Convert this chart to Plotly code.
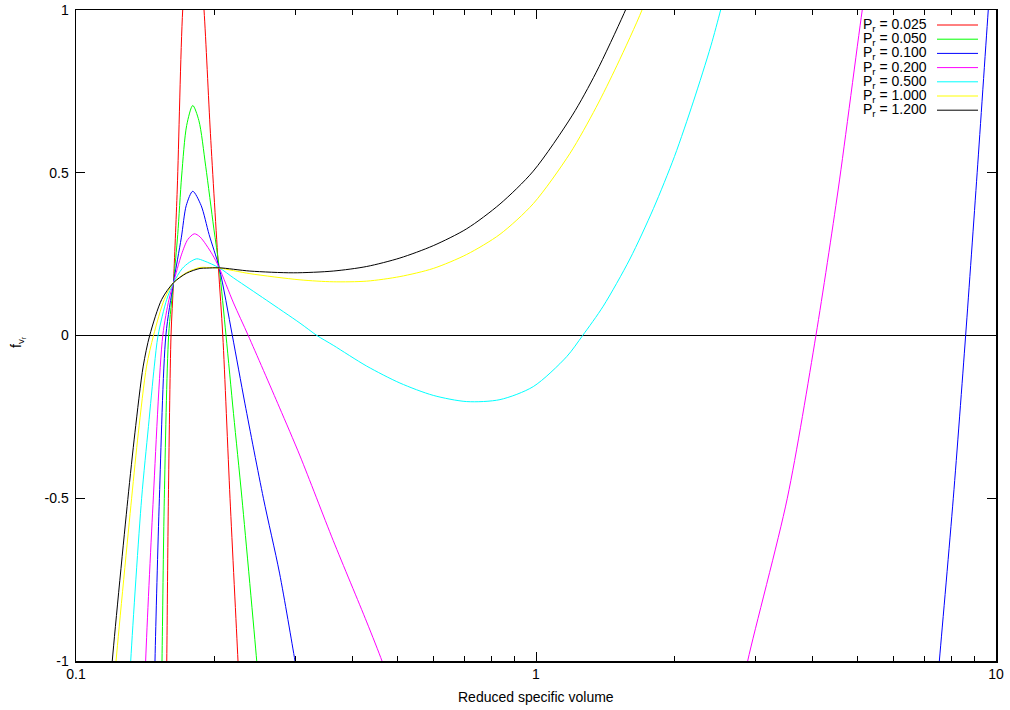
import plotly.graph_objects as go

# ---------------- data ----------------
pressures = [0.025, 0.050, 0.100, 0.200, 0.500, 1.000, 1.200]
legend_labels = ["P<sub>r</sub> = 0.025", "P<sub>r</sub> = 0.050", "P<sub>r</sub> = 0.100",
                 "P<sub>r</sub> = 0.200", "P<sub>r</sub> = 0.500", "P<sub>r</sub> = 1.000",
                 "P<sub>r</sub> = 1.200"]
colors = ["#ff0000", "#00ff00", "#0000ff", "#ff00ff", "#00ffff", "#ffff00", "#000000"]

v_p0025 = [0.1565, 0.1575, 0.1588, 0.1609, 0.1629, 0.1660, 0.1706, 0.1750, 0.1800, 0.1850,
           0.1898, 0.1960, 0.2040, 0.2085, 0.2162, 0.2250, 0.2275]
f_p0025 = [-1.30, -1.00, -0.50, 0.00, 0.162, 0.45, 1.00, 1.20, 1.27, 1.20,
           1.00, 0.62, 0.208, 0.00, -0.50, -1.00, -1.15]

v_p0050 = [0.1528, 0.1538, 0.1556, 0.1590, 0.1629, 0.1664, 0.1697, 0.1740, 0.1794, 0.1850,
           0.1914, 0.1993, 0.2048, 0.2119, 0.2200, 0.2295, 0.2471, 0.2500]
f_p0050 = [-1.25, -1.00, -0.50, 0.00, 0.162, 0.31, 0.49, 0.645, 0.7066, 0.66,
           0.52, 0.33, 0.208, 0.00, -0.24, -0.50, -1.00, -1.09]

v_p0100 = [0.1475, 0.1485, 0.1518, 0.1568, 0.1629, 0.1694, 0.1737, 0.1794, 0.1870, 0.1947,
           0.2048, 0.2187, 0.2330, 0.2555, 0.2770, 0.2993, 0.3050, None,
           7.30, 7.53, 8.075, 8.59, 9.10, 9.62, 10.0]
f_p0100 = [-1.25, -1.00, -0.50, 0.00, 0.162, 0.30, 0.40, 0.443, 0.40, 0.31,
           0.208, 0.00, -0.21, -0.50, -0.73, -1.00, -1.07, None,
           -1.22, -1.00, -0.50, 0.00, 0.50, 1.00, 1.34]

v_p0200 = [0.1400, 0.1417, 0.1470, 0.1544, 0.1593, 0.1629, 0.1697, 0.1750, 0.1808, 0.1860,
           0.1977, 0.2048, 0.2200, 0.2368, 0.2767, 0.3069, 0.3624, 0.4285, 0.4626, 0.4750, None,
           2.75, 2.885, 3.518, 4.06, 4.54, 5.12, 5.35]
f_p0200 = [-1.25, -1.00, -0.52, 0.00, 0.111, 0.162, 0.25, 0.295, 0.3124, 0.303,
           0.25, 0.208, 0.10, 0.00, -0.22, -0.37, -0.63, -0.88, -1.00, -1.05, None,
           -1.15, -1.00, -0.50, 0.00, 0.45, 1.00, 1.18]

v_p0500 = [0.1290, 0.1315, 0.1389, 0.1437, 0.1480, 0.1508, 0.1575, 0.1629, 0.1700, 0.1765,
           0.1830, 0.1900, 0.2048, 0.2200, 0.2388, 0.2598, 0.3069, 0.3340, 0.3624, 0.4285,
           0.5060, 0.5980, 0.7070, 0.8350, 0.9865, 1.166, 1.263, 1.400, 1.600, 1.800,
           2.000, 2.200, 2.400, 2.520, 2.650]
f_p0500 = [-1.25, -1.00, -0.50, -0.28, -0.094, 0.00, 0.111, 0.162, 0.205, 0.225,
           0.2356, 0.229, 0.208, 0.177, 0.143, 0.108, 0.038, 0.00, -0.030, -0.094,
           -0.146, -0.184, -0.203, -0.197, -0.157, -0.065, 0.00, 0.09, 0.235, 0.39,
           0.55, 0.72, 0.89, 1.00, 1.12]

v_p1000 = [0.1190, 0.1222, 0.1321, 0.1366, 0.1424, 0.1474, 0.1556, 0.1629, 0.1737, 0.1860,
           0.1923, 0.2048, 0.2388, 0.3069, 0.3624, 0.4285, 0.5060, 0.5980, 0.7070, 0.8350,
           0.9865, 1.186, 1.350, 1.500, 1.700, 1.800]
f_p1000 = [-1.20, -1.00, -0.50, -0.30, -0.094, 0.00, 0.111, 0.162, 0.193, 0.209,
           0.209, 0.207, 0.190, 0.171, 0.165, 0.167, 0.181, 0.206, 0.249, 0.311,
           0.405, 0.56, 0.70, 0.83, 1.00, 1.10]

v_p1200 = [0.1170, 0.1199, 0.1296, 0.1343, 0.1400, 0.1446, 0.1536, 0.1629, 0.1737, 0.1860,
           0.1923, 0.2048, 0.2388, 0.2968, 0.3624, 0.4285, 0.5060, 0.5980, 0.7070, 0.8350,
           0.9865, 1.200, 1.350, 1.553, 1.650]
f_p1200 = [-1.20, -1.00, -0.504, -0.299, -0.094, 0.00, 0.111, 0.162, 0.191, 0.206,
           0.207, 0.208, 0.198, 0.1926, 0.198, 0.212, 0.238, 0.276, 0.328, 0.404,
           0.505, 0.677, 0.807, 0.989, 1.077]

x_tickvals = [0.1, 1, 10]
x_ticktext = ["0.1", "1", "10"]
x_minorvals = [0.2, 0.3, 0.4, 0.5, 0.6, 0.7, 0.8, 0.9, 2, 3, 4, 5, 6, 7, 8, 9]
y_tickvals = [-1, -0.5, 0, 0.5, 1]
y_ticktext = ["-1", "-0.5", "0", "0.5", "1"]

series_v = [v_p0025, v_p0050, v_p0100, v_p0200, v_p0500, v_p1000, v_p1200]
series_f = [f_p0025, f_p0050, f_p0100, f_p0200, f_p0500, f_p1000, f_p1200]

# ---------------- figure ----------------
FONT = "Liberation Sans, Arial, Helvetica, sans-serif"
FS = 14
W, H = 1010, 710
# plot area wanted on screen: x 76..996, y 10..661 (page body margin removed below)
ML, MR, MT, MB = 76, W - 996, 10, H - 661
PW, PH = W - ML - MR, H - MT - MB


def px_x(sx):
    return (sx - ML) / PW


def px_y(sy):
    return 1 - (sy - MT) / PH


fig = go.Figure()
for lab, col, vv, ff in zip(legend_labels, colors, series_v, series_f):
    fig.add_trace(go.Scatter(x=vv, y=ff, mode="lines", name=lab,
                             line=dict(color=col, width=1, shape="spline", smoothing=0.8),
                             connectgaps=False, showlegend=False, hoverinfo="skip"))

# manual gnuplot-style key: text on the left, line sample on the right
shapes = []
annotations = []
for i, (lab, col) in enumerate(zip(legend_labels, colors)):
    sy = 25 + i * 14.2
    annotations.append(dict(x=px_x(929), y=px_y(sy), xref="paper", yref="paper",
                            text=lab, showarrow=False, xanchor="right", yanchor="middle",
                            font=dict(family=FONT, size=FS, color="black")))
    shapes.append(dict(type="line", xref="paper", yref="paper",
                       x0=px_x(937), x1=px_x(978), y0=px_y(sy), y1=px_y(sy),
                       line=dict(color=col, width=1)))

annotations.append(dict(x=px_x(536), y=px_y(697), xref="paper", yref="paper",
                        text="Reduced specific volume", showarrow=False,
                        xanchor="center", yanchor="middle",
                        font=dict(family=FONT, size=FS, color="black")))
annotations.append(dict(x=px_x(17), y=px_y(342), xref="paper", yref="paper",
                        text="f<sub>v<sub>r</sub></sub>", showarrow=False, textangle=-90,
                        xanchor="center", yanchor="middle",
                        font=dict(family=FONT, size=FS, color="black")))

fig.update_layout(
    width=W, height=H,
    margin=dict(l=ML, r=MR, t=MT, b=MB, pad=0, autoexpand=False),
    paper_bgcolor="white", plot_bgcolor="white",
    font=dict(family=FONT, size=FS, color="black"),
    shapes=shapes, annotations=annotations,
    showlegend=False,
)
fig.update_xaxes(type="log", range=[-1, 1], tickmode="array", tickvals=x_tickvals,
                 ticktext=x_ticktext, ticks="inside", ticklen=9, tickcolor="black",
                 tickwidth=1, showline=True, linecolor="black", linewidth=1.5,
                 mirror="allticks", showgrid=False, zeroline=False, automargin=False,
                 ticklabelstandoff=0, ticklabeloverflow="allow",
                 minor=dict(tickmode="array", tickvals=x_minorvals, ticks="inside",
                            ticklen=5, tickcolor="black", tickwidth=1, showgrid=False))
fig.update_yaxes(range=[-1, 1], tickmode="array", tickvals=y_tickvals, ticktext=y_ticktext,
                 ticks="inside", ticklen=9, tickcolor="black", tickwidth=1,
                 showline=True, linecolor="black", linewidth=1.5, mirror="allticks",
                 showgrid=False, zeroline=True, zerolinecolor="black", zerolinewidth=1.5,
                 automargin=False, ticklabelstandoff=3, ticklabeloverflow="allow")

fig.write_html("out.html",
               config={"displayModeBar": False, "staticPlot": True},
               post_script="document.body.style.margin='0';document.body.style.padding='0';")
